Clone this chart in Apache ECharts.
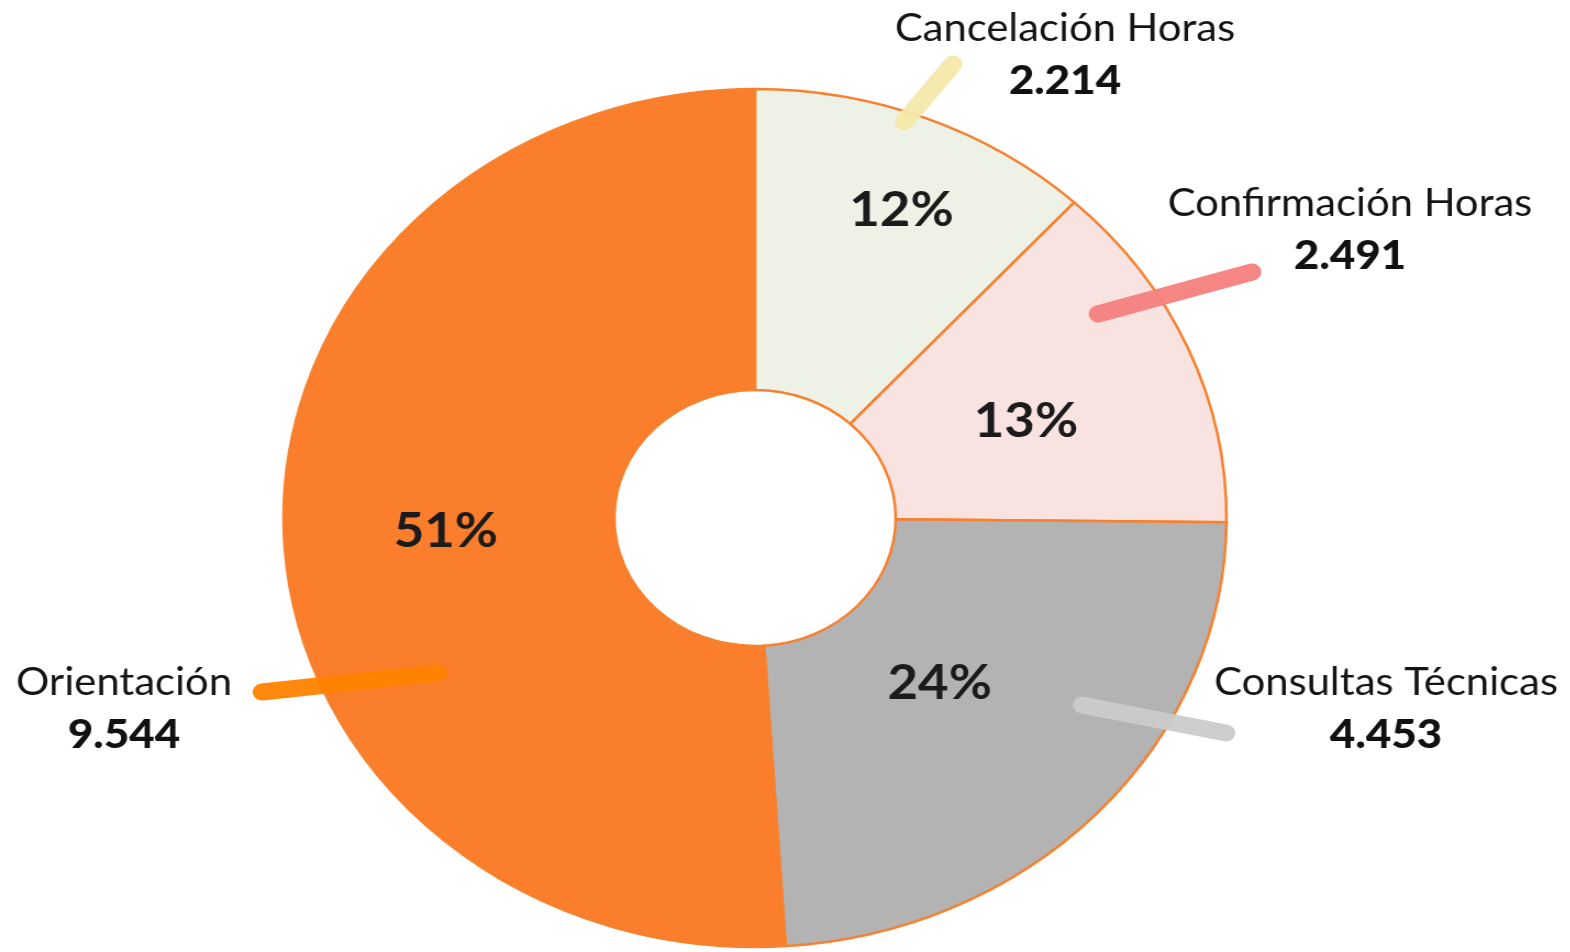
<!DOCTYPE html>
<html>
<head>
<meta charset="utf-8">
<title>Atenciones</title>
<script src="https://cdn.jsdelivr.net/npm/echarts@6.0.0/dist/echarts.min.js"></script>
<style>
  html, body { margin: 0; padding: 0; background: #fff; overflow: hidden; }
  #chart { height: 952px; transform-origin: 0 0; }
</style>
</head>
<body>
<div id="chart"></div>
<script>
// datos del grafico
var categories = ['Cancelación Horas', 'Confirmación Horas', 'Consultas Técnicas', 'Orientación'];
var values = [2214, 2491, 4453, 9544];

// colores de cada sector y de su linea guia
var sliceColors = ['#EEF1E5', '#F8E3E0', '#B3B3B3', '#FA7E2B'];
var guideColors = ['#F4E8A9', '#F47F7C', '#CBCBCB', '#FF8200'];

// la imagen original esta estirada a lo ancho: se dibuja en una caja mas angosta y se escala
var SX = 1.099;
var el = document.getElementById('chart');
el.style.width = (1570 / SX) + 'px';
el.style.transform = 'scaleX(' + SX + ')';

var center = [755 / SX, 518];
var rOuter = 429;
var rInner = 128;

// posiciones en pixeles de la imagen (ya estirada)
var labelPos = [[1065, 55], [1350, 230], [1386, 709], [124, 709]];       // centro de nombre + valor
var guideFrom = [[904, 122], [1098, 314], [1082, 705], [438, 673]];     // linea guia: inicio
var guideTo = [[953, 64], [1252, 272], [1226, 733], [262, 692]];        // linea guia: fin
var pctShift = [[34, -45], [-13, 15], [-40, -28], [0, 4]];              // ajuste de los porcentajes

function miles(v) {
  return String(v).replace(/\B(?=(\d{3})+(?!\d))/g, '.');
}
function px(p) {
  return [p[0] / SX, p[1]];
}

var pieData = categories.map(function (name, i) {
  return { name: name, value: values[i] };
});

var chart = echarts.init(el);
chart.setOption({
  animation: false,
  color: sliceColors,
  series: [
    {
      // sectores con el porcentaje adentro
      type: 'pie',
      z: 2,
      center: center,
      radius: [rInner, rOuter],
      startAngle: 90,
      clockwise: true,
      silent: true,
      itemStyle: { borderColor: '#F7812F', borderWidth: 2.5 },
      label: {
        show: true,
        position: 'inside',
        fontFamily: 'Lato',
        fontWeight: 'bold',
        fontSize: 48,
        color: '#1B1B1B',
        formatter: function (p) {
          return Math.round(p.percent) + '%';
        }
      },
      labelLine: { show: false },
      labelLayout: function (params) {
        var s = pctShift[params.dataIndex];
        return { dx: s[0] / SX, dy: s[1] };
      },
      data: pieData
    },
    {
      // nombre y valor afuera, con la linea guia gruesa
      type: 'pie',
      z: 3,
      center: center,
      radius: [rInner, rOuter],
      startAngle: 90,
      silent: true,
      itemStyle: { color: 'transparent' },
      label: {
        show: true,
        position: 'outside',
        align: 'center',
        width: 420,
        overflow: 'none',
        formatter: function (p) {
          return '{n|' + p.name + '}\n{v|' + miles(p.value) + '}';
        },
        rich: {
          n: { fontFamily: 'Lato', fontSize: 38, color: '#141414', lineHeight: 52, align: 'center' },
          v: { fontFamily: 'Lato', fontSize: 40, fontWeight: 900, color: '#111', lineHeight: 52, align: 'center' }
        }
      },
      labelLine: {
        show: true,
        lineStyle: { width: 17, cap: 'round' }
      },
      labelLayout: function (params) {
        var i = params.dataIndex;
        var p = px(labelPos[i]);
        return {
          x: p[0],
          y: p[1],
          align: 'center',
          verticalAlign: 'middle',
          labelLinePoints: [px(guideFrom[i]), px(guideTo[i]), px(guideTo[i])]
        };
      },
      data: pieData.map(function (d, i) {
        return {
          name: d.name,
          value: d.value,
          labelLine: { lineStyle: { color: guideColors[i], opacity: 0.95 } }
        };
      })
    }
  ]
});
</script>
</body>
</html>
